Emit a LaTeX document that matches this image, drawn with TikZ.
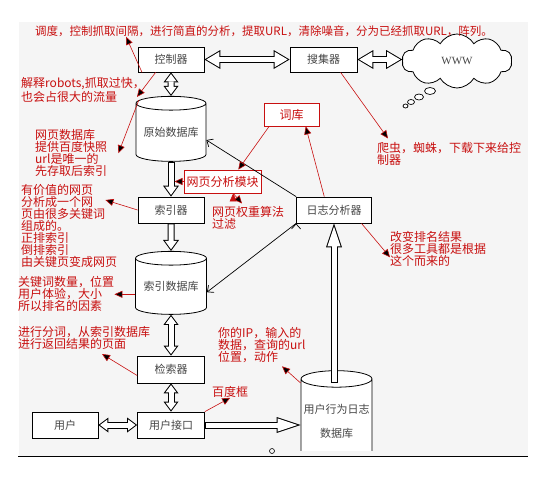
\documentclass[tikz,border=0pt]{standalone}
\usepackage{fontspec}
\newfontfamily\cjk{Noto Sans CJK SC}
\newfontfamily\wwwfont{Liberation Serif}
\usetikzlibrary{arrows.meta,shapes.geometric,shapes.symbols}

\definecolor{notered}{RGB}{200,16,16}
\definecolor{boxtext}{RGB}{70,70,70}
\definecolor{panel}{RGB}{245,245,245}

\tikzset{
  box/.style={draw=black, line width=0.8pt, fill=white, inner sep=0pt,
    minimum width=66pt, minimum height=26pt, text=boxtext,
    font=\cjk\fontsize{11}{13}\selectfont},
  db/.style={cylinder, shape border rotate=90, aspect=0.25, draw=black,
    line width=0.8pt, fill=white, inner sep=0pt, minimum width=70pt,
    minimum height=65pt, text=boxtext, font=\cjk\fontsize{11}{13}\selectfont},
  redbox/.style={draw=notered, line width=0.8pt, fill=white, inner sep=0pt,
    minimum height=23pt, text=notered, font=\cjk\fontsize{12}{13}\selectfont},
  note/.style={inner sep=0pt, anchor=north west, align=left, text=notered,
    font=\cjk\fontsize{12}{12}\selectfont},
  remark/.style={draw=notered, line width=0.6pt, -{Triangle[length=8pt,width=7pt]}},
  link/.style={draw=black, line width=0.7pt, -{Straight Barb[length=5pt,width=9pt]}},
  twoway/.style={draw=white, line width=5pt, shorten <=1.96pt, shorten >=1.96pt,
    {Triangle[length=13.04pt,width=15.49pt,line width=0pt]}-{Triangle[length=13.04pt,width=15.49pt,line width=0pt]},
    preaction={draw=black, line width=7pt, shorten <=0pt, shorten >=0pt,
      {Triangle[length=16pt,width=19pt,line width=0pt]}-{Triangle[length=16pt,width=19pt,line width=0pt]}}},
  twowaysmall/.style={draw=white, line width=5pt, shorten <=1.67pt, shorten >=1.67pt,
    {Triangle[length=7.33pt,width=11pt,line width=0pt]}-{Triangle[length=7.33pt,width=11pt,line width=0pt]},
    preaction={draw=black, line width=7pt, shorten <=0pt, shorten >=0pt,
      {Triangle[length=10pt,width=15pt,line width=0pt]}-{Triangle[length=10pt,width=15pt,line width=0pt]}}},
  oneway/.style={draw=white, line width=5pt, shorten <=1pt, shorten >=1.7pt,
    -{Triangle[length=8.3pt,width=12.07pt,line width=0pt]},
    preaction={draw=black, line width=7pt, shorten <=0pt, shorten >=0pt,
      -{Triangle[length=11pt,width=16pt,line width=0pt]}}},
  onewaylong/.style={draw=white, line width=5pt, shorten <=1pt, shorten >=3.16pt,
    -{Triangle[length=19.84pt,width=13.23pt,line width=0pt]},
    preaction={draw=black, line width=7pt, shorten <=0pt, shorten >=0pt,
      -{Triangle[length=24pt,width=16pt,line width=0pt]}}}
}

\begin{document}
\begin{tikzpicture}[x=1pt,y=-1pt]
  \fill[white] (0,0) rectangle (545,488);
  \useasboundingbox (0,0) rectangle (545,488);
  \fill[panel] (19,22) rectangle (528,456);
  \draw[line width=0.8pt] (18,456) -- (528,456);

  \node (ctrl) [box, minimum height=25pt] at (171,59.5) {控制器};
  \node (coll) [box, minimum width=67pt, minimum height=25pt, right of=ctrl, node distance=152.5pt] {搜集器};
  \node (www) [cloud, cloud puffs=10, cloud puff arc=120, aspect=2, draw=black, line width=0.8pt,
    fill=white, minimum width=110pt, minimum height=54pt, text=boxtext,
    font=\wwwfont\fontsize{11}{13}\selectfont] at (457,61) {WWW};
  \node (rawdb) [db, below of=ctrl, node distance=73pt] {原始数据库};
  \node (indexer) [box, below of=rawdb, node distance=77.5pt] {索引器};
  \node (indexdb) [db, minimum width=71pt, minimum height=63pt, below of=indexer, node distance=76.5pt] {索引数据库};
  \node (retr) [box, minimum width=67pt, minimum height=27pt, below of=indexdb, node distance=83pt] {检索器};
  \node (ui) [box, minimum width=67pt, below of=retr, node distance=55.5pt] {用户接口};
  \node (user) [box, left of=ui, node distance=106pt] {用户};
  \node (loganal) [box, minimum width=75pt, right of=indexer, node distance=163pt] {日志分析器};
  \node (dict) [redbox, minimum width=55pt] at (291.5,114.5) {词库};
  \node (module) [redbox, minimum width=77pt] at (222.5,181.5) {网页分析模块};
  \begin{scope}
    \clip (0,0) rectangle (545,450);
    \node (logdb) [db, minimum width=71pt, minimum height=92pt, align=center] at (336.5,421) {用户行为日志\\[11pt]数据库};
  \end{scope}
  \coordinate (logtop) at (334,383);

  \draw[line width=0.7pt, fill=white] (430,91) ellipse [x radius=5.5, y radius=3.5];
  \draw[line width=0.7pt, fill=white] (419,97) ellipse [x radius=4.5, y radius=3];
  \draw[line width=0.7pt, fill=white] (411,102) ellipse [x radius=3.5, y radius=2.5];
  \draw[line width=0.7pt, fill=white] (405.5,106) ellipse [x radius=2.5, y radius=2];
  \draw[line width=0.6pt] (272,451) circle [radius=2.5];

  \node (tnote) [note, anchor=west, font=\cjk\fontsize{11.5}{12}\selectfont] at (35,31) {调度，控制抓取间隔，进行简直的分析，提取URL，清除噪音，分为已经抓取URL，阵列。};
  \node (robots) [note] at (21,77.5) {解释robots,抓取过快，\\也会占很大的流量};
  \node (webdb) [note] at (35,129.5) {网页数据库\\提供百度快照\\url是唯一的\\先存取后索引};
  \node (value) [note] at (21,184.5) {有价值的网页\\分析成一个网\\页由很多关键词\\组成的。\\正排索引\\倒排索引\\由关键页变成网页};
  \node (kw) [note] at (18,276.5) {关键词数量，位置\\用户体验，大小\\所以排名的因素};
  \node (split) [note] at (18,326.5) {进行分词，从索引数据库\\进行返回结果的页面};
  \node (ipnote) [note] at (218,327.5) {你的IP，输入的\\数据，查询的url\\位置，动作};
  \node (baidu) [note, anchor=west] at (212,392) {百度框};
  \node (crawler) [note] at (377,142.5) {爬虫，蜘蛛，下载下来给控\\制器};
  \node (rank) [note] at (390,231.5) {改变排名结果\\很多工具都是根据\\这个而来的};
  \node (weight) [note] at (212,206.5) {网页权重算法\\过滤};

  \draw[twoway] (ctrl) -- (coll);
  \draw[twoway] (coll.east) -- (coll.east -| www.west);
  \draw[twowaysmall] (ctrl) -- (rawdb);
  \draw[oneway] (rawdb) -- (indexer);
  \draw[oneway] (indexer) -- (indexdb);
  \draw[twowaysmall] (indexdb) -- (retr);
  \draw[twowaysmall] (retr) -- (ui);
  \draw[twowaysmall] (user) -- (ui);
  \draw[onewaylong] (ui.east) -- (ui.east -| logdb.west);
  \draw[onewaylong] (logtop) -- (loganal.south);

  \path[link] (loganal.north west) edge (rawdb.-12)
              (loganal.south west) edge (indexdb.-9);

  \path[remark] (ctrl.-156) edge ([xshift=91pt]tnote.south west)
                (ctrl.-140) edge ([xshift=-8pt,yshift=-7pt]robots.east)
                (rawdb.north west) edge ([xshift=11pt]webdb.east)
                (indexer.west) edge ([xshift=-12pt,yshift=-15.5pt]value.north east)
                (indexdb.west |- kw.east) edge (kw.east)
                (retr.190) edge ([xshift=84pt,yshift=-4pt]split.south west)
                (ui.north east) edge (baidu.south)
                (logdb.north west |- logtop) edge ([xshift=64pt,yshift=-3pt]ipnote.south west)
                (coll.-37) edge ([xshift=11pt,yshift=4pt]crawler.north west)
                (loganal.-26) edge ([yshift=-8pt]rank.west)
                (dict.208) edge (module.37)
                (loganal.126) edge (dict.-40)
                (module.west) edge[shorten >=3.5pt] (module.west -| rawdb.south)
                (module.-48) edge ([xshift=30pt,yshift=3pt]weight.north west);
\end{tikzpicture}
\end{document}
